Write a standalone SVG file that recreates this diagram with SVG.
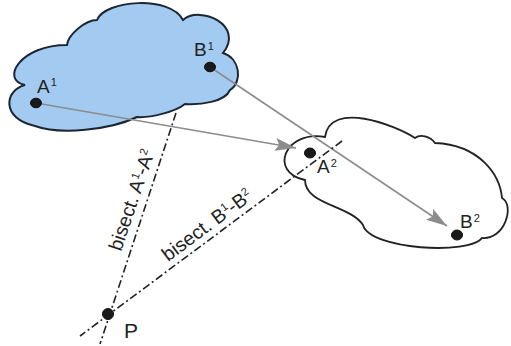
<svg xmlns="http://www.w3.org/2000/svg" width="511" height="346" viewBox="0 0 511 346">
<style>
.lbl{font-family:"Liberation Sans",Arial,sans-serif;font-size:19px;fill:#222}
.bt{font-size:19.5px}
.sup{font-size:11px}
.dot{fill:#1a1a1a;stroke:#111;stroke-width:1}
.arrow{stroke:#8c8c8c;stroke-width:1.6;fill:none}
.bis{stroke:#222;stroke-width:1.6;fill:none;stroke-dasharray:8 3 2 3}
</style>
<defs>
<marker id="ah" markerUnits="userSpaceOnUse" markerWidth="22" markerHeight="14" refX="21" refY="6.5" orient="auto">
<path d="M0,0 L21,6.5 L0,13 L4,6.5 z" fill="#8c8c8c"/>
</marker>
</defs>
<rect width="511" height="346" fill="#fff"/>
<g id="cloud1">
<path d="M25,85 C0,80 20,45 67,45 C68,35 85,20 97,20 C105,0 170,-5 183,20 C200,5 245,25 223,53 C240,58 243,82 230,90 C225,102 200,105 185,104 C175,112 150,118 137,117 C110,130 60,135 35,126 C0,118 5,90 25,85 Z" fill="#a3cbf2" stroke="#1c2632" stroke-width="2"/>
</g>
<g id="cloud2">
<path d="M325,137 C285,130 268,172 305,180 C305,205 350,205 363,225 C370,250 470,255 482,238 C505,240 515,205 502,198 C500,175 480,145 435,143 C430,136 420,134 415,138 C395,125 330,100 325,137 Z" fill="#fff" stroke="#222" stroke-width="1.8"/>
</g>
<g id="connectors">
<line class="arrow" x1="36" y1="103" x2="296" y2="148" marker-end="url(#ah)"/>
<line class="arrow" x1="210" y1="67" x2="447" y2="226" marker-end="url(#ah)"/>
<line class="bis" x1="176" y1="113" x2="100" y2="344"/>
<line class="bis" x1="342" y1="141" x2="80" y2="336"/>
</g>
<g id="A1">
<ellipse class="dot" cx="36" cy="103" rx="5.5" ry="4.8"/>
<text class="lbl" x="37" y="93">A<tspan class="sup" dx="1" dy="-7">1</tspan></text>
</g>
<g id="B1">
<ellipse class="dot" cx="210" cy="67" rx="5.5" ry="4.8"/>
<text class="lbl" x="194" y="56">B<tspan class="sup" dx="1" dy="-6">1</tspan></text>
</g>
<g id="A2">
<ellipse class="dot" cx="310" cy="153" rx="5.5" ry="5"/>
<text class="lbl" x="317" y="173">A<tspan class="sup" dx="1" dy="-6">2</tspan></text>
</g>
<g id="B2">
<ellipse class="dot" cx="457" cy="235" rx="5.5" ry="5"/>
<text class="lbl" x="460" y="228">B<tspan class="sup" dx="1" dy="-6">2</tspan></text>
</g>
<g id="P">
<ellipse class="dot" cx="108" cy="314" rx="5.5" ry="5.5"/>
<text class="lbl" x="124" y="338" style="font-size:21px">P</text>
</g>
<g id="labels">
<text class="lbl bt" transform="translate(121,252) rotate(-71.3)">bisect. A<tspan class="sup" dy="-7">1</tspan><tspan dy="7">-A</tspan><tspan class="sup" dy="-7">2</tspan></text>
<text class="lbl bt" transform="translate(168,262) rotate(-36.6)">bisect. B<tspan class="sup" dy="-7">1</tspan><tspan dy="7">-B</tspan><tspan class="sup" dy="-7">2</tspan></text>
</g>
</svg>
